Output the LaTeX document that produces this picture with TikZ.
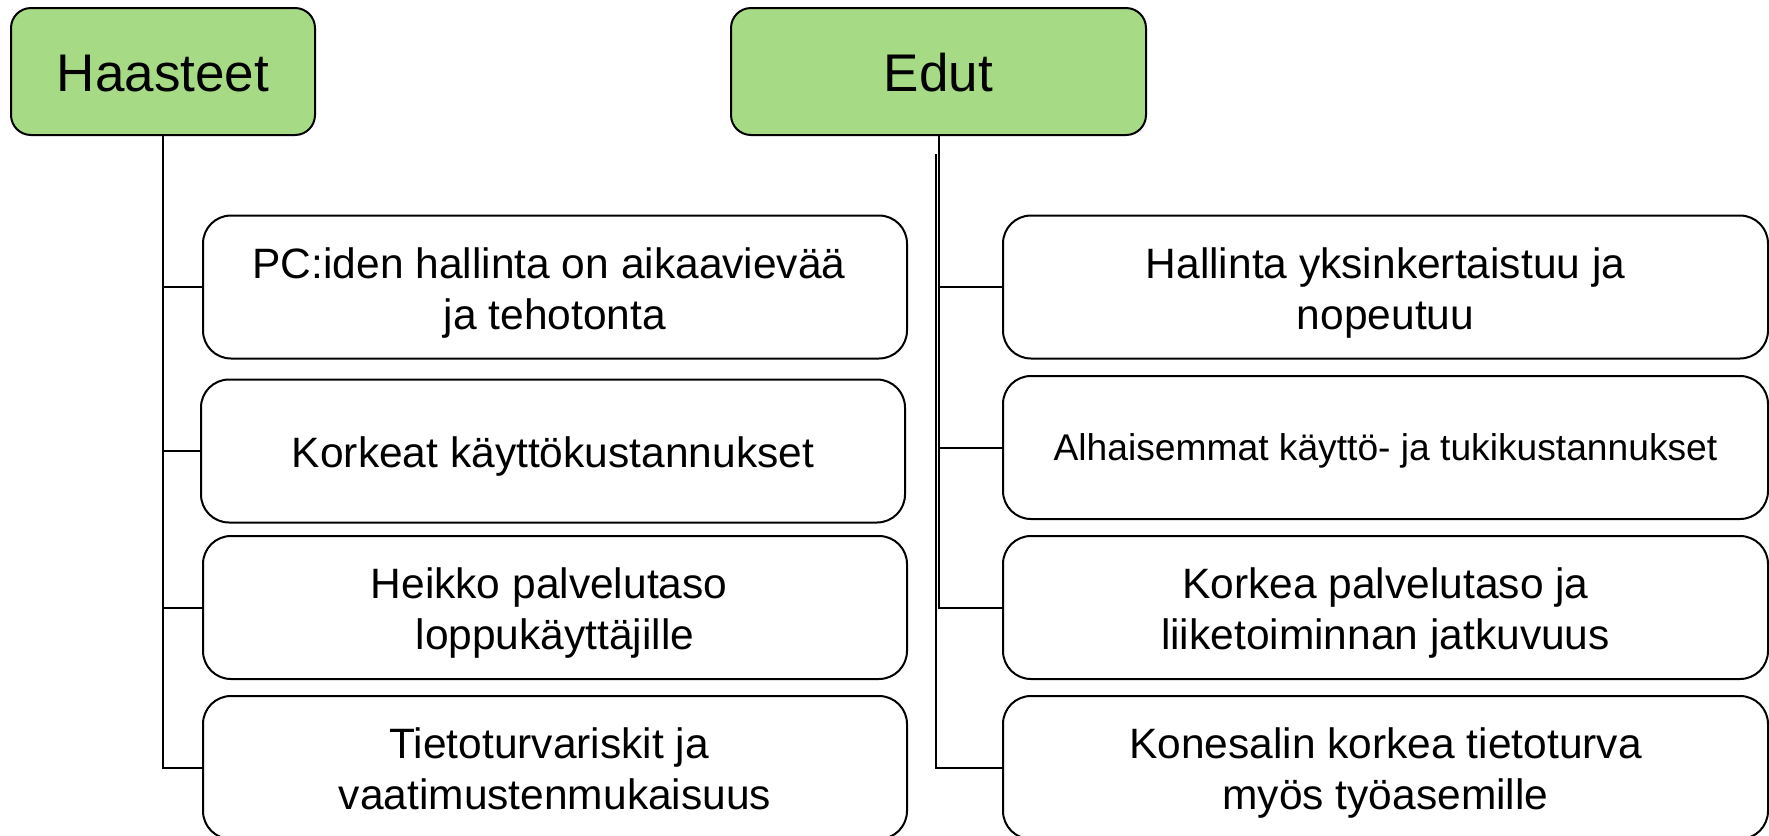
\documentclass[tikz,border=0pt]{standalone}
\usepackage{fontspec}
\setmainfont{Liberation Sans}
\definecolor{hdrgreen}{HTML}{A6DA84}
\newcommand\boxtext[2]{\raisebox{-#1}[\height][\depth]{\begin{tabular}{@{}c@{}}#2\end{tabular}}}
\newcommand\trsp{\ \mbox{}}
\begin{document}
\begin{tikzpicture}[x=0.5pt,y=-0.5pt,
  hdr/.style={draw, fill=hdrgreen, rounded corners=10pt, line width=1pt,
    minimum height=63.5pt, inner sep=0pt, font=\fontsize{26.5}{31}\selectfont},
  item/.style={draw, rounded corners=14pt, line width=1pt, minimum height=71.5pt,
    inner sep=0pt, align=center, font=\fontsize{21.25}{25.5}\selectfont},
  litem/.style={item, minimum width=352pt},
  ritem/.style={item, minimum width=382.5pt},
  conn/.style={line width=1pt}]
\path[use as bounding box] (0,0) rectangle (1769,836);
\clip (0,0) rectangle (1769,836);

\node[hdr, minimum width=152pt] (H) at (163,71.5) {\boxtext{3.8pt}{Haasteet}};
\node[hdr, minimum width=207.5pt] (E) at (938.5,71.5) {\boxtext{3.8pt}{Edut}};

\node[litem] (L1) at (555,287) {\boxtext{3.2pt}{PC:iden hallinta on aikaavievää\trsp\\ja tehotonta}};
\node[litem] (L2) at (553,451) {\boxtext{3pt}{Korkeat käyttökustannukset}};
\node[litem] (L3) at (555,607.5) {\boxtext{3.2pt}{Heikko palvelutaso\trsp\\loppukäyttäjille}};
\node[litem] (L4) at (555,767.5) {\boxtext{3.2pt}{Tietoturvariskit ja\trsp\\vaatimustenmukaisuus}};

\node[ritem] (R1) at (1385.5,287) {\boxtext{3.2pt}{Hallinta yksinkertaistuu ja\\nopeutuu}};
\node[ritem, font=\fontsize{18.6}{22}\selectfont] (R2) at (1385.5,447.5) {\boxtext{2.3pt}{Alhaisemmat käyttö- ja tukikustannukset}};
\node[ritem] (R3) at (1385.5,607.5) {\boxtext{3.2pt}{Korkea palvelutaso ja\\liiketoiminnan jatkuvuus}};
\node[ritem] (R4) at (1385.5,767.5) {\boxtext{3.2pt}{Konesalin korkea tietoturva\\myös työasemille}};

% left tree
\draw[conn] (H.south) |- (L4.west);
\draw[conn] (H.south |- L1.west) -- (L1.west);
\draw[conn] (H.south |- L2.west) -- (L2.west);
\draw[conn] (H.south |- L3.west) -- (L3.west);

% right tree
\coordinate (eb) at (935.5,154);
\draw[conn] (E.south) |- (R3.west);
\draw[conn] (E.south |- R1.west) -- (R1.west);
\draw[conn] (E.south |- R2.west) -- (R2.west);
\draw[conn] (eb) |- (R4.west);
\end{tikzpicture}
\end{document}
